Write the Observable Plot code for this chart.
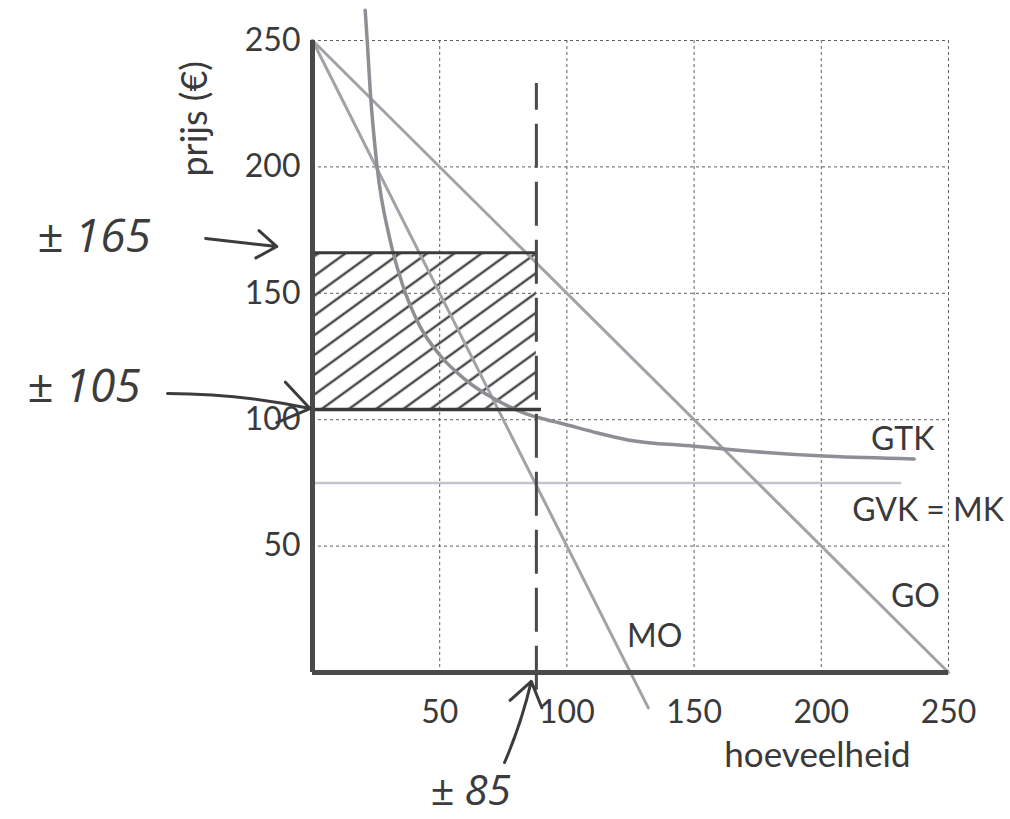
<!DOCTYPE html>
<html><head><meta charset="utf-8">
<script src="https://cdn.jsdelivr.net/npm/d3@7"></script>
<script src="https://cdn.jsdelivr.net/npm/@observablehq/plot@0.6"></script>
<style>body{margin:0;background:#fff} #chart{width:1010px;height:819px}</style>
</head><body><div id="chart"></div>
<script>
// ---- data ----
const gridTicks = [50, 100, 150, 200, 250];
const goQ = [0, 250];
const goP = [250, 0];
const moQ = [0, 132];
const moP = [250, -14];
const gvkQ = [0, 231];
const gvkP = [75, 75];
const gtkQ = [20.7, 21.5, 22.7, 25.4, 30.5, 35.2, 42.2, 50, 60.5, 72.3, 84, 92, 98, 111, 124, 150, 166, 203, 236.5];
const gtkP = [262, 250, 230, 200, 171, 154, 137, 125.6, 115.5, 107.8, 102.3, 100, 98.5, 95, 92, 89.5, 88, 85.5, 84.5];
const qOpt = 88;            // drawn position of the dashed quantity line
const priceTop = 166;
const priceBottom = 104;
const dashedExtent = [-7, 233];
const curveLabels = [
  {text: "GTK", q: 232, p: 92},
  {text: "GVK = MK", q: 242, p: 64},
  {text: "GO", q: 237, p: 30},
  {text: "MO", q: 134.5, p: 14}
];
const notes = [
  {text: "± 165", q: -86, p: 172, size: 46},
  {text: "± 105", q: -90, p: 113, size: 46},
  {text: "± 85", q: 62, p: -47, size: 42}
];
const arrow165 = [{q1: -42, p1: 171.7, q2: -14, p2: 168.5}];
const arrow105 = [{q1: -57, p1: 110.4, q2: -1, p2: 104.4}];
const arrow85 = [{q1: 75.5, p1: -35.6, q2: 86, p2: -3.5}];
const axisTitles = [
  {text: "prijs (€)", q: -46, p: 219, rotate: -90},
  {text: "hoeveelheid", q: 198.5, p: -33, rotate: 0}
];

const toPts = (qs, ps) => qs.map((q, i) => ({q, p: ps[i]}));
const arrowStyle = {x1: "q1", y1: "p1", x2: "q2", y2: "p2", stroke: "#3c3c3c", strokeWidth: 3, headLength: 18, headAngle: 70};

const plot = Plot.plot({
  width: 1010, height: 819,
  marginLeft: 312, marginRight: 62, marginTop: 40, marginBottom: 147,
  x: {domain: [0, 250]},
  y: {domain: [0, 250]},
  style: {fontFamily: "Lato, 'Open Sans', sans-serif", fontSize: "32px", color: "#3a3a3a", background: "#fff", overflow: "visible"},
  marks: [
    Plot.gridX(gridTicks, {stroke: "#444", strokeOpacity: 0.85, strokeDasharray: "3,3", strokeWidth: 1}),
    Plot.gridY(gridTicks, {stroke: "#444", strokeOpacity: 0.85, strokeDasharray: "3,3", strokeWidth: 1}),
    Plot.rect([{x1: 0, x2: qOpt, y1: priceBottom, y2: priceTop}], {x1: "x1", x2: "x2", y1: "y1", y2: "y2", fill: "url(#hatch)"}),
    Plot.line(toPts(gvkQ, gvkP), {x: "q", y: "p", stroke: "#c4c4cf", strokeWidth: 2.5}),
    Plot.line(toPts(goQ, goP), {x: "q", y: "p", stroke: "#a2a2a8", strokeWidth: 3}),
    Plot.line(toPts(moQ, moP), {x: "q", y: "p", stroke: "#a2a2a8", strokeWidth: 3}),
    Plot.line(toPts(gtkQ, gtkP), {x: "q", y: "p", stroke: "#8e8e94", strokeWidth: 3.5, curve: "monotone-x"}),
    Plot.ruleY([priceTop], {x1: 0, x2: qOpt, stroke: "#3a3a3a", strokeWidth: 3}),
    Plot.ruleY([priceBottom], {x1: 0, x2: qOpt + 2, stroke: "#3a3a3a", strokeWidth: 3.5}),
    Plot.ruleX([qOpt], {y1: dashedExtent[0], y2: dashedExtent[1], stroke: "#4a4a4a", strokeWidth: 3, strokeDasharray: "44,14"}),
    Plot.ruleX([0], {stroke: "#4a4a4a", strokeWidth: 5}),
    Plot.ruleY([0], {stroke: "#4a4a4a", strokeWidth: 5}),
    Plot.axisX(gridTicks, {tickSize: 0, tickPadding: 28, fontSize: 32, label: null}),
    Plot.axisY(gridTicks, {tickSize: 0, tickPadding: 12, fontSize: 32, label: null}),
    Plot.text(curveLabels, {x: "q", y: "p", text: "text", fontSize: 32, fill: "#3a3a3a"}),
    Plot.text(axisTitles.filter(d => d.rotate === 0), {x: "q", y: "p", text: "text", fontSize: 35, fill: "#3a3a3a"}),
    Plot.text(axisTitles.filter(d => d.rotate !== 0), {x: "q", y: "p", text: "text", fontSize: 36, rotate: -90, fill: "#3a3a3a"}),
    Plot.text(notes, {x: "q", y: "p", text: "text", fontSize: d => d.size, fontStyle: "italic", fontWeight: 400, fontFamily: "'Open Sans', 'DejaVu Sans', sans-serif", fill: "#3c3c3c"}),
    Plot.arrow(arrow165, {...arrowStyle, bend: 0}),
    Plot.arrow(arrow105, {...arrowStyle, bend: 6}),
    Plot.arrow(arrow85, {...arrowStyle, bend: -5})
  ]
});

const svg = d3.select(plot);
const defs = svg.insert("defs", ":first-child");
const pat = defs.append("pattern")
  .attr("id", "hatch")
  .attr("patternUnits", "userSpaceOnUse")
  .attr("width", 16).attr("height", 16)
  .attr("patternTransform", "rotate(-36)");
pat.append("line")
  .attr("x1", 0).attr("y1", 8).attr("x2", 16).attr("y2", 8)
  .attr("stroke", "#4a4a4a").attr("stroke-width", 2.5);

document.getElementById("chart").appendChild(plot);
</script>
</body></html>
